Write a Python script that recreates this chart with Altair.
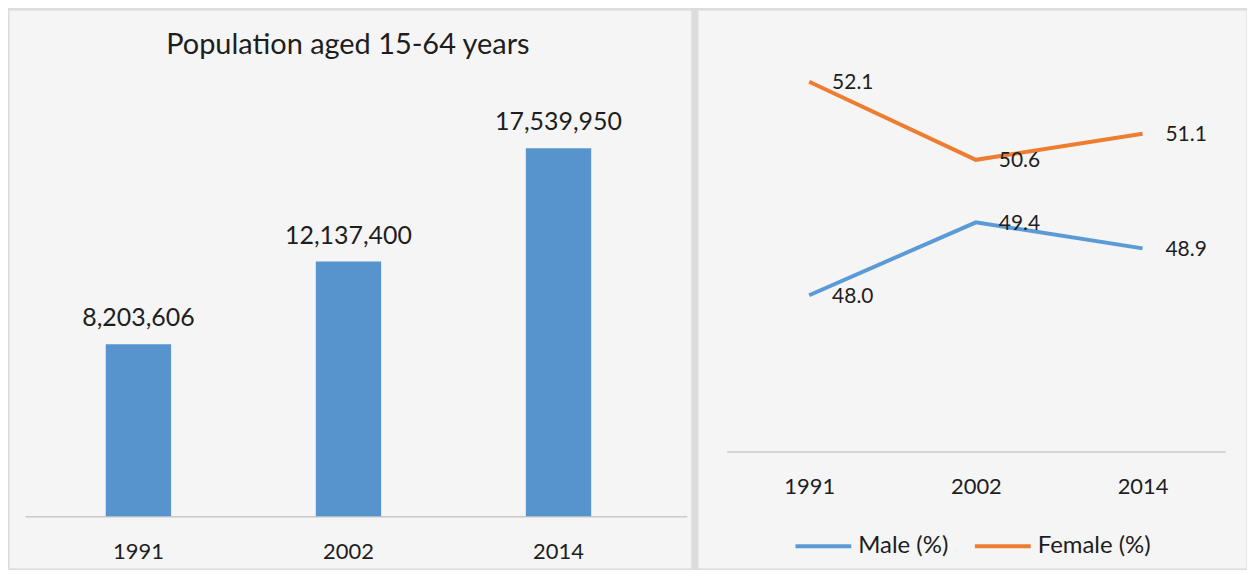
import altair as alt
import pandas as pd

# ---- data ----
years = ["1991", "2002", "2014"]
population = [8203606, 12137400, 17539950]
male_pct = [48.0, 49.4, 48.9]
female_pct = [52.1, 50.6, 51.1]
series_names = ["Male (%)", "Female (%)"]
bar_title = "Population aged 15-64 years"

FONT = "Lato"
TEXT = "#1e1e1e"
BAR_COLOR = "#5793cd"
LINE_COLORS = ["#5b9bd5", "#ed7d31"]

bar_df = pd.DataFrame({"year": years, "population": population})
title_df = pd.DataFrame({"t": [bar_title]})
line_df = pd.DataFrame({
    "year": years * 2,
    "series": [series_names[0]] * len(years) + [series_names[1]] * len(years),
    "pct": male_pct + female_pct,
})

# ---- left panel: bars ----
x_bar = alt.X(
    "year:N", sort=years, title=None,
    scale=alt.Scale(range=[16, 680], paddingInner=0.689, paddingOuter=0.42, align=0.458),
    axis=alt.Axis(offset=-52, labelAngle=0, ticks=False, labelPadding=25,
                  labelFontSize=22, labelFont=FONT, labelColor=TEXT,
                  domainColor="#c9c9c9", domainWidth=1.5, grid=False),
)
y_bar = alt.Y("population:Q", scale=alt.Scale(domain=[0, 20000000], range=[508, 87]), axis=None)

bars = alt.Chart(bar_df).mark_bar(color=BAR_COLOR).encode(x=x_bar, y=y_bar)
bar_labels = alt.Chart(bar_df).mark_text(
    baseline="alphabetic", dy=-18, fontSize=25, font=FONT, color=TEXT
).encode(x=x_bar, y=y_bar, text=alt.Text("population:Q", format=","))
title_mark = alt.Chart(title_df).mark_text(
    baseline="alphabetic", align="center", fontSize=29, font=FONT, color=TEXT
).encode(x=alt.value(340), y=alt.value(44), text="t:N")

left = alt.layer(bars, bar_labels, title_mark).properties(width=684, height=560)

# ---- right panel: lines ----
x_line = alt.X(
    "year:N", sort=years, title=None,
    scale=alt.Scale(range=[29, 529], padding=0.495, align=0.5),
    axis=alt.Axis(offset=-117, labelAngle=0, ticks=False, labelPadding=25,
                  labelFontSize=22, labelFont=FONT, labelColor=TEXT,
                  domainColor="#c9c9c9", domainWidth=1.5, grid=False),
)
y_line = alt.Y("pct:Q", scale=alt.Scale(domain=[45, 53], range=[443, 25], zero=False), axis=None)
color = alt.Color(
    "series:N",
    scale=alt.Scale(domain=series_names, range=LINE_COLORS),
    legend=alt.Legend(orient="none", legendX=787, legendY=508, direction="horizontal",
                      title=None, symbolType="stroke", symbolSize=3136, symbolStrokeWidth=4,
                      labelFontSize=24, labelFont=FONT, labelColor=TEXT,
                      columnPadding=18, labelOffset=5, padding=0),
)

lines = alt.Chart(line_df).mark_line(strokeWidth=4).encode(
    x=x_line, y=y_line, color=color, detail="series:N"
)
line_labels = alt.Chart(line_df).mark_text(
    align="left", baseline="middle", dx=23, dy=1.5, fontSize=21, font=FONT, color=TEXT
).encode(x=x_line, y=y_line, text=alt.Text("pct:Q", format=".1f"), detail="series:N")

right = alt.layer(lines, line_labels).properties(width=550, height=560)

chart = alt.hconcat(left, right, spacing=5).configure(
    padding=0, background="#dcdcdc", font=FONT
).configure_view(
    fill="#f5f5f5", stroke="#e6e6e6"
)

chart.save("out.html", embed_options={"renderer": "svg", "actions": False})
